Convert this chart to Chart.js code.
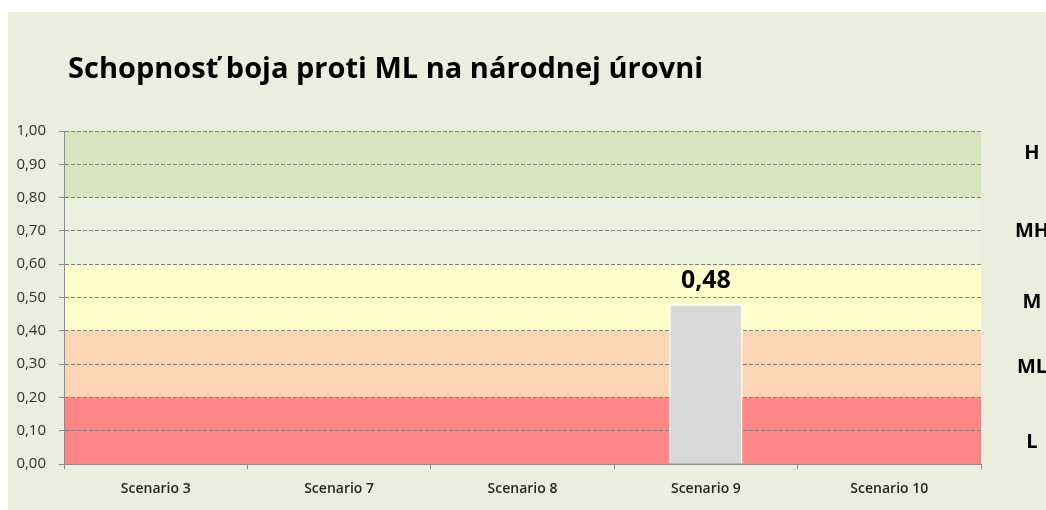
<!DOCTYPE html>
<html>
<head>
<meta charset="utf-8">
<script src="https://cdn.jsdelivr.net/npm/chart.js@4/dist/chart.umd.min.js"></script>
<style>
  html, body { margin: 0; padding: 0; background: #ffffff; width: 1046px; height: 510px; overflow: hidden; }
  #wrap { position: absolute; left: 8px; top: 12px; width: 1038px; height: 498px; background: #EBEEDF; }
  canvas { display: block; }
</style>
</head>
<body>
<div id="wrap"><canvas id="c" width="1038" height="498"></canvas></div>
<script>
const titleText = 'Schopnosť boja proti ML na národnej úrovni';
const categories = ['Scenario 3', 'Scenario 7', 'Scenario 8', 'Scenario 9', 'Scenario 10'];
const values = [null, null, null, 0.48, null];
const yTicks = [0, 0.1, 0.2, 0.3, 0.4, 0.5, 0.6, 0.7, 0.8, 0.9, 1.0];
const bandLimits = [0, 0.2, 0.4, 0.6, 0.8, 1.0];
const bandColors = ['#FF8686', '#FCD5B5', '#FFFFCC', '#EBF1DE', '#D7E4BD'];
const levelLabels = ['L', 'ML', 'M', 'MH', 'H'];
const levelPositions = [0.066, 0.29, 0.486, 0.70, 0.934];

const fmt = v => v.toFixed(2).replace('.', ',');

const bandsPlugin = {
  id: 'bands',
  beforeDraw(chart) {
    const { ctx, chartArea } = chart;
    const y = chart.scales.y;
    ctx.save();
    for (let i = 0; i < bandColors.length; i++) {
      const top = y.getPixelForValue(bandLimits[i + 1]);
      const bot = y.getPixelForValue(bandLimits[i]);
      ctx.fillStyle = bandColors[i];
      ctx.fillRect(chartArea.left, top, chartArea.right - chartArea.left, bot - top);
    }
    ctx.restore();
  }
};

const decoPlugin = {
  id: 'deco',
  afterDraw(chart) {
    const { ctx } = chart;
    const y = chart.scales.y;
    ctx.save();
    // title
    ctx.fillStyle = '#000000';
    ctx.font = 'bold 29px "Open Sans", sans-serif';
    ctx.textAlign = 'left';
    ctx.textBaseline = 'middle';
    ctx.fillText(titleText, 60, 58);
    // level labels on the right
    ctx.font = 'bold 20px "Open Sans", sans-serif';
    ctx.textAlign = 'center';
    for (let i = 0; i < levelLabels.length; i++) {
      ctx.fillText(levelLabels[i], 1024, y.getPixelForValue(levelPositions[i]));
    }
    // data labels
    const meta = chart.getDatasetMeta(0);
    ctx.font = 'bold 25px "Open Sans", sans-serif';
    ctx.textBaseline = 'middle';
    meta.data.forEach((bar, i) => {
      const v = values[i];
      if (v === null || v === undefined) return;
      ctx.fillText(fmt(v), bar.x, bar.y - 23);
    });
    ctx.restore();
  }
};

new Chart(document.getElementById('c'), {
  type: 'bar',
  data: {
    labels: categories,
    datasets: [{
      data: values,
      backgroundColor: '#D9D9D9',
      borderColor: '#FFFFFF',
      borderWidth: 1.5,
      categoryPercentage: 1.0,
      barPercentage: 0.4
    }]
  },
  options: {
    responsive: false,
    animation: false,
    layout: { padding: { top: 119, right: 65, bottom: 0, left: 0 } },
    plugins: {
      legend: { display: false },
      tooltip: { enabled: false },
      title: { display: false }
    },
    scales: {
      x: {
        afterFit(s) { s.height = 46; },
        grid: {
          offset: true,
          drawOnChartArea: false,
          drawTicks: true,
          tickLength: 5,
          color: '#8C8C8C'
        },
        border: { display: true, color: '#8C8C8C', width: 1 },
        ticks: {
          color: '#262626',
          padding: 12,
          font: { family: '"Open Sans", sans-serif', size: 14, weight: '600' }
        }
      },
      y: {
        min: 0,
        max: 1,
        afterFit(s) { s.width = 56; },
        afterBuildTicks(s) { s.ticks = yTicks.map(v => ({ value: v })); },
        grid: {
          color: '#7F7F7F',
          lineWidth: 1,
          tickLength: 5,
          tickBorderDash: [],
          tickColor: '#8C8C8C'
        },
        border: { display: true, color: '#8C8C8C', width: 1, dash: [4, 2] },
        ticks: {
          color: '#303030',
          padding: 13,
          font: { family: '"Open Sans", sans-serif', size: 15 },
          callback: v => fmt(v)
        }
      }
    }
  },
  plugins: [bandsPlugin, decoPlugin]
});
</script>
</body>
</html>
